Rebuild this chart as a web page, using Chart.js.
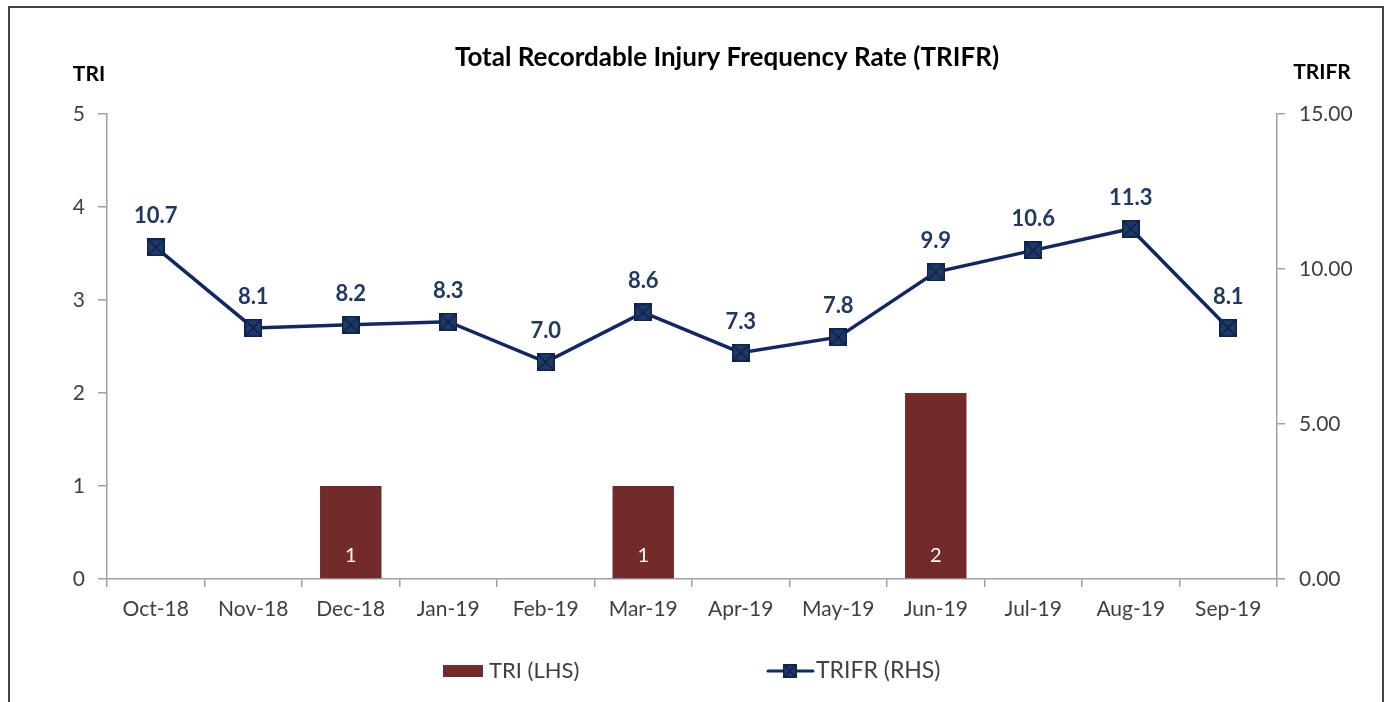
<!DOCTYPE html>
<html>
<head>
<meta charset="utf-8">
<script src="https://cdn.jsdelivr.net/npm/chart.js@4.4.1/dist/chart.umd.min.js"></script>
<style>
  html, body { margin: 0; padding: 0; background: #fff; overflow: hidden; }
  #wrap { position: relative; width: 1391px; height: 702px; }
  #frame { position: absolute; left: 8px; top: 6px; width: 1376px; height: 720px; border: 2px solid #444; box-sizing: border-box; pointer-events: none; }
  canvas { position: absolute; left: 0; top: 0; }
</style>
</head>
<body>
<div id="wrap">
  <canvas id="chart" width="1391" height="702"></canvas>
  <div id="frame"></div>
</div>
<script>
const months = ["Oct-18", "Nov-18", "Dec-18", "Jan-19", "Feb-19", "Mar-19", "Apr-19", "May-19", "Jun-19", "Jul-19", "Aug-19", "Sep-19"];
const triValues = [0, 0, 1, 0, 0, 1, 0, 0, 2, 0, 0, 0];
const trifrValues = [10.7, 8.1, 8.2, 8.3, 7.0, 8.6, 7.3, 7.8, 9.9, 10.6, 11.3, 8.1];
const chartTitle = "Total Recordable Injury Frequency Rate (TRIFR)";
const leftTitle = "TRI";
const rightTitle = "TRIFR";
const legendNames = ["TRI (LHS)", "TRIFR (RHS)"];

const FONT = "Lato, 'Open Sans', sans-serif";
const barColor = "#722a2a";
const lineColor = "#112766";
const textColor = "#404040";

function makeMarker(size) {
  const c = document.createElement("canvas");
  c.width = size;
  c.height = size;
  const g = c.getContext("2d");
  g.fillStyle = "#1f3a63";
  g.fillRect(0, 0, size, size);
  g.strokeStyle = "#0d2152";
  g.lineWidth = 1.5;
  g.strokeRect(0.75, 0.75, size - 1.5, size - 1.5);
  g.beginPath();
  g.moveTo(1, 1); g.lineTo(size - 1, size - 1);
  g.moveTo(size - 1, 1); g.lineTo(1, size - 1);
  g.stroke();
  return c;
}
const marker = makeMarker(18);
const legendMarker = makeMarker(14);

const extras = {
  id: "extras",
  afterDatasetsDraw(chart) {
    const ctx = chart.ctx;
    const area = chart.chartArea;
    ctx.save();
    // bar labels
    ctx.font = "20px " + FONT;
    ctx.fillStyle = "#fff";
    ctx.textAlign = "center";
    ctx.textBaseline = "middle";
    chart.getDatasetMeta(0).data.forEach((bar, i) => {
      if (!triValues[i]) return;
      ctx.fillText(String(triValues[i]), bar.x, area.bottom - 23);
    });
    // line labels
    ctx.font = "bold 22px " + FONT;
    ctx.fillStyle = "#1f3864";
    chart.getDatasetMeta(1).data.forEach((pt, i) => {
      ctx.fillText(trifrValues[i].toFixed(1), pt.x, pt.y - 31);
    });
    ctx.restore();
  },
  afterDraw(chart) {
    const ctx = chart.ctx;
    ctx.save();
    ctx.fillStyle = "#000";
    ctx.textBaseline = "middle";
    ctx.textAlign = "center";
    ctx.font = "bold 26px " + FONT;
    ctx.fillText(chartTitle, 727, 58);
    ctx.font = "bold 21px " + FONT;
    ctx.fillText(leftTitle, 89, 74);
    ctx.fillText(rightTitle, 1322, 72);

    // legend
    const ly = 671;
    ctx.fillStyle = barColor;
    ctx.fillRect(443, ly - 6, 40, 12);
    ctx.fillStyle = textColor;
    ctx.font = "22px " + FONT;
    ctx.textAlign = "left";
    ctx.fillText(legendNames[0], 489, ly);
    ctx.strokeStyle = lineColor;
    ctx.lineWidth = 3;
    ctx.lineCap = "round";
    ctx.beginPath();
    ctx.moveTo(768, ly);
    ctx.lineTo(813, ly);
    ctx.stroke();
    ctx.drawImage(legendMarker, 790 - 7, ly - 7);
    ctx.font = "23px " + FONT;
    ctx.fillText(legendNames[1], 816, ly);
    ctx.restore();
  }
};

new Chart(document.getElementById("chart"), {
  data: {
    labels: months,
    datasets: [
      {
        type: "bar",
        label: legendNames[0],
        data: triValues,
        backgroundColor: barColor,
        yAxisID: "y",
        categoryPercentage: 1,
        barPercentage: 0.63,
        order: 2
      },
      {
        type: "line",
        label: legendNames[1],
        data: trifrValues,
        borderColor: lineColor,
        borderWidth: 3.5,
        pointStyle: marker,
        pointRadius: 9,
        tension: 0,
        yAxisID: "y1",
        order: 1
      }
    ]
  },
  options: {
    responsive: false,
    animation: false,
    layout: { padding: { top: 114, left: 0, right: 0, bottom: 0 } },
    plugins: { legend: { display: false }, title: { display: false }, tooltip: { enabled: false } },
    scales: {
      x: {
        offset: true,
        grid: { offset: true, drawOnChartArea: false, color: "#a0a0a0", tickLength: 8, lineWidth: 1.5 },
        border: { color: "#a0a0a0", width: 1.5 },
        ticks: { color: textColor, font: { family: FONT, size: 21 }, padding: 10, maxRotation: 0 },
        afterFit(scale) { scale.height = 123; }
      },
      y: {
        position: "left",
        min: 0,
        max: 5,
        ticks: { stepSize: 1, color: textColor, font: { family: FONT, size: 21 }, padding: 13 },
        grid: { drawOnChartArea: false, color: "#a0a0a0", tickLength: 9, lineWidth: 1.5 },
        border: { color: "#a0a0a0", width: 1.5 },
        afterFit(scale) { scale.width = 107; }
      },
      y1: {
        position: "right",
        min: 0,
        max: 15,
        ticks: { stepSize: 5, color: textColor, font: { family: FONT, size: 21 }, padding: 14, callback: (v) => Number(v).toFixed(2) },
        grid: { drawOnChartArea: false, color: "#a0a0a0", tickLength: 8, lineWidth: 1.5 },
        border: { color: "#a0a0a0", width: 1.5 },
        afterFit(scale) { scale.width = 114; }
      }
    }
  },
  plugins: [extras]
});
</script>
</body>
</html>
